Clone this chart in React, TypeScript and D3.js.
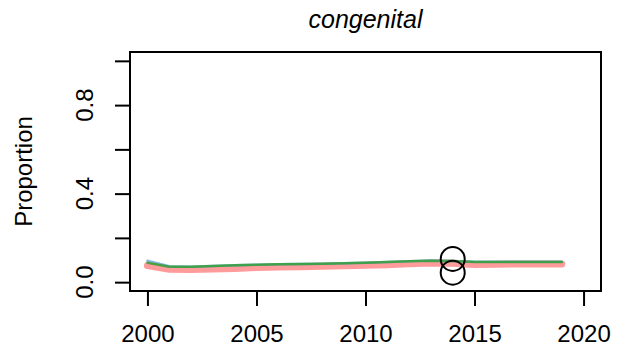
import { axisBottom, axisLeft, line, scaleLinear, select } from 'd3';
import React, { useEffect, useRef } from 'react';

const WIDTH = 618;
const HEIGHT = 356;
const PLOT_LEFT = 130;
const PLOT_RIGHT = 601;
const PLOT_TOP = 52;
const PLOT_BOTTOM = 291;
const FONT = 'Liberation Sans, Arial, sans-serif';

const years = [
  2000, 2001, 2002, 2003, 2004, 2005, 2006, 2007, 2008, 2009, 2010, 2011, 2012, 2013, 2014, 2015, 2016,
  2017, 2018, 2019,
];
const pinkSeries = [
  0.075, 0.058, 0.057, 0.059, 0.062, 0.066, 0.069, 0.07, 0.072, 0.074, 0.076, 0.079, 0.083, 0.086, 0.085,
  0.08, 0.081, 0.082, 0.082, 0.082,
];
const greenSeries = [
  0.088, 0.07, 0.07, 0.073, 0.076, 0.079, 0.081, 0.082, 0.083, 0.085, 0.088, 0.091, 0.094, 0.097, 0.096,
  0.091, 0.091, 0.091, 0.091, 0.091,
];
const blueSeries = [
  0.097, 0.072, 0.07, 0.073, 0.076, 0.079, 0.081, 0.082, 0.083, 0.085, 0.088, 0.091, 0.095, 0.098, 0.096,
  0.092, 0.092, 0.092, 0.092, 0.092,
];
const markerYears = [2014, 2014];
const markerValues = [0.105, 0.043];
const xTicks = [2000, 2005, 2010, 2015, 2020];
const yTicks = [0, 0.2, 0.4, 0.6, 0.8, 1.0];
const yLabelled = [0, 0.4, 0.8];

const App = (): JSX.Element => {
  const ref = useRef<SVGSVGElement>(null);

  useEffect(() => {
    if (ref.current === null) return;
    ref.current.replaceChildren();

    // R style 4% padding around the data range
    const x = scaleLinear().domain([1999.2, 2020.8]).range([PLOT_LEFT, PLOT_RIGHT]);
    const y = scaleLinear().domain([-0.04, 1.04]).range([PLOT_BOTTOM, PLOT_TOP]);

    const svg = select(ref.current).attr('width', WIDTH).attr('height', HEIGHT).style('font-family', FONT);

    const path = line<number>()
      .x((_, i) => x(years[i]))
      .y((d) => y(d));

    const series: [number[], string, number, number][] = [
      [pinkSeries, '#ff8a8a', 7, 0.85],
      [blueSeries, '#5b9bd5', 2.5, 0.7],
      [greenSeries, '#2ca02c', 2.5, 0.8],
    ];
    series.forEach(([values, colour, width, opacity]) => {
      svg
        .append('path')
        .datum(values)
        .attr('d', path)
        .attr('fill', 'none')
        .attr('stroke', colour)
        .attr('stroke-width', width)
        .attr('stroke-opacity', opacity)
        .attr('stroke-linecap', 'round')
        .attr('stroke-linejoin', 'round');
    });

    // Open circle markers
    svg
      .append('g')
      .selectAll('circle')
      .data(markerValues)
      .join('circle')
      .attr('cx', (_, i) => x(markerYears[i]))
      .attr('cy', (d) => y(d))
      .attr('r', 12)
      .attr('fill', 'none')
      .attr('stroke', 'black')
      .attr('stroke-width', 2);

    // Box
    svg
      .append('rect')
      .attr('x', PLOT_LEFT)
      .attr('y', PLOT_TOP)
      .attr('width', PLOT_RIGHT - PLOT_LEFT)
      .attr('height', PLOT_BOTTOM - PLOT_TOP)
      .attr('fill', 'none')
      .attr('stroke', 'black')
      .attr('stroke-width', 2);

    // x axis
    svg
      .append('g')
      .attr('transform', `translate(0, ${PLOT_BOTTOM})`)
      .call(axisBottom(x).tickValues(xTicks).tickSize(15).tickSizeOuter(0).tickPadding(19).tickFormat((d) => String(d)))
      .call((g) => g.select('.domain').attr('d', `M${x(2000)},0H${x(2020)}`).attr('stroke-width', 2))
      .call((g) => g.selectAll('.tick line').attr('stroke-width', 2))
      .call((g) => g.selectAll('.tick text').attr('font-size', 24).attr('font-family', FONT).attr('fill', 'black'));

    // y axis
    svg
      .append('g')
      .attr('transform', `translate(${PLOT_LEFT}, 0)`)
      .call(axisLeft(y).tickValues(yTicks).tickSize(15).tickSizeOuter(0).tickFormat(() => ''))
      .call((g) => g.select('.domain').attr('d', `M0,${y(0)}V${y(1)}`).attr('stroke-width', 2))
      .call((g) => g.selectAll('.tick line').attr('stroke-width', 2));

    svg
      .append('g')
      .selectAll('text')
      .data(yLabelled)
      .join('text')
      .attr('transform', (d) => `translate(93, ${y(d)}) rotate(-90)`)
      .attr('text-anchor', 'middle')
      .attr('font-size', 24)
      .text((d) => d.toFixed(1));

    svg
      .append('text')
      .attr('transform', `translate(32, ${(PLOT_TOP + PLOT_BOTTOM) / 2}) rotate(-90)`)
      .attr('text-anchor', 'middle')
      .attr('font-size', 24)
      .text('Proportion');

    svg
      .append('text')
      .attr('x', (PLOT_LEFT + PLOT_RIGHT) / 2)
      .attr('y', 28)
      .attr('text-anchor', 'middle')
      .attr('font-size', 25)
      .attr('font-style', 'italic')
      .text('congenital');
  }, []);

  return <svg ref={ref} style={{ position: 'absolute', left: 0, top: 0 }} />;
};

export default App;
